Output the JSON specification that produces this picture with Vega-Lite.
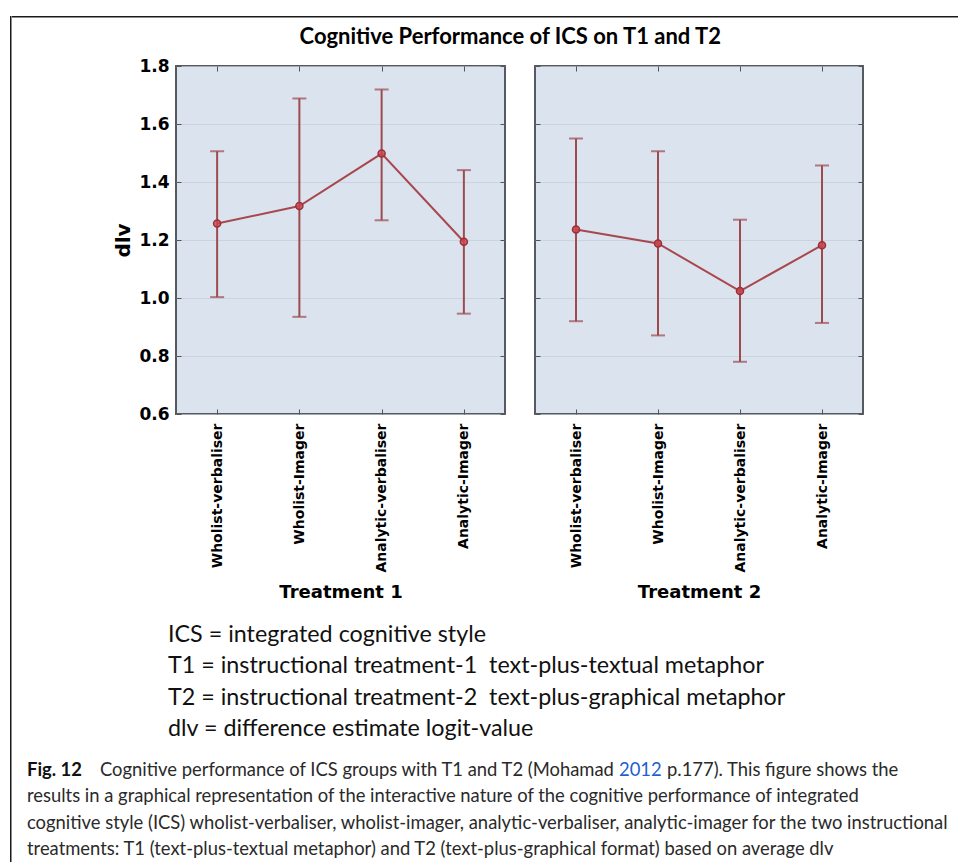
{
  "$schema": "https://vega.github.io/schema/vega-lite/v6.json",
  "background": "white",
  "padding": {"left": 10, "top": 10, "right": 0, "bottom": 0},
  "datasets": {
    "ics": [
      {"treatment": "Treatment 1", "group": "Wholist-verbaliser", "mean": 1.257, "lower": 1.003, "upper": 1.506},
      {"treatment": "Treatment 1", "group": "Wholist-Imager", "mean": 1.317, "lower": 0.935, "upper": 1.688},
      {"treatment": "Treatment 1", "group": "Analytic-verbaliser", "mean": 1.498, "lower": 1.268, "upper": 1.719},
      {"treatment": "Treatment 1", "group": "Analytic-Imager", "mean": 1.194, "lower": 0.946, "upper": 1.441},
      {"treatment": "Treatment 2", "group": "Wholist-verbaliser", "mean": 1.236, "lower": 0.92, "upper": 1.55},
      {"treatment": "Treatment 2", "group": "Wholist-Imager", "mean": 1.188, "lower": 0.871, "upper": 1.506},
      {"treatment": "Treatment 2", "group": "Analytic-verbaliser", "mean": 1.024, "lower": 0.78, "upper": 1.27},
      {"treatment": "Treatment 2", "group": "Analytic-Imager", "mean": 1.182, "lower": 0.914, "upper": 1.457}
    ],
    "notes": [
      {"line": 1, "text": "ICS = integrated cognitive style"},
      {"line": 2, "text": "T1 = instructional treatment-1\u00a0 text-plus-textual metaphor"},
      {"line": 3, "text": "T2 = instructional treatment-2\u00a0 text-plus-graphical metaphor"},
      {"line": 4, "text": "dlv = difference estimate logit-value"}
    ],
    "caption": [
      {"line": 1, "part": "fig", "text": "Fig. 12"},
      {"line": 1, "part": "a", "text": "Cognitive performance of ICS groups with T1 and T2 (Mohamad"},
      {"line": 1, "part": "year", "text": "2012"},
      {"line": 1, "part": "b", "text": "p.177). This figure shows the"},
      {"line": 2, "part": "body", "text": "results in a graphical representation of the interactive nature of the cognitive performance of integrated"},
      {"line": 3, "part": "body", "text": "cognitive style (ICS) wholist-verbaliser, wholist-imager, analytic-verbaliser, analytic-imager for the two instructional"},
      {"line": 4, "part": "body", "text": "treatments: T1 (text-plus-textual metaphor) and T2 (text-plus-graphical format) based on average dlv"}
    ]
  },
  "spacing": 0,
  "hconcat": [
    {
      "width": 1.5,
      "height": 860,
      "view": {"fill": "#1a1a1a", "stroke": null},
      "data": {"values": [{"k": 1}]},
      "mark": {"type": "text"},
      "encoding": {"text": {"value": ""}}
    },
    {
      "spacing": 4,
      "vconcat": [
        {
          "width": 950,
          "height": 1.5,
          "view": {"fill": "#1a1a1a", "stroke": null},
          "data": {"values": [{"k": 1}]},
          "mark": {"type": "text"},
          "encoding": {"text": {"value": ""}}
        },
        {
          "spacing": 0,
          "vconcat": [
            {
              "title": {
                "text": "Cognitive Performance of ICS on T1 and T2",
                "font": "Lato", "fontWeight": "bold", "fontSize": 22, "color": "#000000",
                "anchor": "middle", "dx": 72, "offset": 7
              },
              "spacing": 26,
              "hconcat": [
                {
                  "width": 74, "height": 10,
                  "data": {"values": [{"k": 1}]},
                  "mark": {"type": "text"},
                  "encoding": {"text": {"value": ""}}
                },
                {
                  "width": 329, "height": 348,
                  "view": {"fill": "#dae3ee", "stroke": "#545a60", "strokeWidth": 2},
                  "data": {"name": "ics"},
                  "transform": [{"filter": "datum.treatment === 'Treatment 1'"}],
                  "resolve": {"axis": {"x": "independent", "y": "independent"}},
                  "layer": [
                    {
                      "mark": {"type": "rule", "color": "#9e4a4f", "strokeWidth": 2},
                      "encoding": {
                        "x": {"field": "group", "type": "ordinal", "sort": null,
                          "scale": {"type": "point", "padding": 0.5},
                          "axis": {"title": "Treatment 1", "titlePadding": 11, "labelPadding": 14}},
                        "y": {"field": "lower", "type": "quantitative",
                          "scale": {"domain": [0.6, 1.8], "nice": false, "zero": false},
                          "axis": {"values": [0.6, 0.8, 1.0, 1.2, 1.4, 1.6, 1.8], "format": ".1f", "grid": true,
                            "labelFontSize": 17, "title": "dlv", "titleFontSize": 20, "titlePadding": 5, "labelPadding": 12}},
                        "y2": {"field": "upper"}
                      }
                    },
                    {
                      "mark": {"type": "tick", "color": "#9e4a4f", "size": 14, "thickness": 2},
                      "encoding": {
                        "x": {"field": "group", "type": "ordinal", "sort": null, "axis": null},
                        "y": {"field": "upper", "type": "quantitative", "axis": null}
                      }
                    },
                    {
                      "mark": {"type": "tick", "color": "#9e4a4f", "size": 14, "thickness": 2},
                      "encoding": {
                        "x": {"field": "group", "type": "ordinal", "sort": null, "axis": null},
                        "y": {"field": "lower", "type": "quantitative", "axis": null}
                      }
                    },
                    {
                      "mark": {"type": "line", "color": "#a9474e", "strokeWidth": 2},
                      "encoding": {
                        "x": {"field": "group", "type": "ordinal", "sort": null, "axis": null},
                        "y": {"field": "mean", "type": "quantitative", "axis": null}
                      }
                    },
                    {
                      "mark": {"type": "point", "shape": "circle", "size": 50, "filled": true, "fill": "#c8464f", "fillOpacity": 0.8, "stroke": "#9c2f38", "strokeWidth": 1.5, "opacity": 1},
                      "encoding": {
                        "x": {"field": "group", "type": "ordinal", "sort": null,
                          "axis": {"orient": "top", "labels": false, "title": null}},
                        "y": {"field": "mean", "type": "quantitative",
                          "axis": {"orient": "right", "labels": false, "title": null, "values": [0.6, 0.8, 1.0, 1.2, 1.4, 1.6, 1.8]}}
                      }
                    }
                  ]
                },
                {
                  "width": 328, "height": 348,
                  "view": {"fill": "#dae3ee", "stroke": "#545a60", "strokeWidth": 2},
                  "data": {"name": "ics"},
                  "transform": [{"filter": "datum.treatment === 'Treatment 2'"}],
                  "resolve": {"axis": {"x": "independent", "y": "independent"}},
                  "layer": [
                    {
                      "mark": {"type": "rule", "color": "#9e4a4f", "strokeWidth": 2},
                      "encoding": {
                        "x": {"field": "group", "type": "ordinal", "sort": null,
                          "scale": {"type": "point", "padding": 0.5},
                          "axis": {"title": "Treatment 2", "titlePadding": 11, "labelPadding": 14}},
                        "y": {"field": "lower", "type": "quantitative",
                          "scale": {"domain": [0.6, 1.8], "nice": false, "zero": false},
                          "axis": {"values": [0.6, 0.8, 1.0, 1.2, 1.4, 1.6, 1.8], "grid": true, "labels": false, "title": null}},
                        "y2": {"field": "upper"}
                      }
                    },
                    {
                      "mark": {"type": "tick", "color": "#9e4a4f", "size": 14, "thickness": 2},
                      "encoding": {
                        "x": {"field": "group", "type": "ordinal", "sort": null, "axis": null},
                        "y": {"field": "upper", "type": "quantitative", "axis": null}
                      }
                    },
                    {
                      "mark": {"type": "tick", "color": "#9e4a4f", "size": 14, "thickness": 2},
                      "encoding": {
                        "x": {"field": "group", "type": "ordinal", "sort": null, "axis": null},
                        "y": {"field": "lower", "type": "quantitative", "axis": null}
                      }
                    },
                    {
                      "mark": {"type": "line", "color": "#a9474e", "strokeWidth": 2},
                      "encoding": {
                        "x": {"field": "group", "type": "ordinal", "sort": null, "axis": null},
                        "y": {"field": "mean", "type": "quantitative", "axis": null}
                      }
                    },
                    {
                      "mark": {"type": "point", "shape": "circle", "size": 50, "filled": true, "fill": "#c8464f", "fillOpacity": 0.9, "stroke": "#9c2f38", "strokeWidth": 1.5, "opacity": 1},
                      "encoding": {
                        "x": {"field": "group", "type": "ordinal", "sort": null,
                          "axis": {"orient": "top", "labels": false, "title": null}},
                        "y": {"field": "mean", "type": "quantitative",
                          "axis": {"orient": "right", "labels": false, "title": null, "values": [0.6, 0.8, 1.0, 1.2, 1.4, 1.6, 1.8]}}
                      }
                    }
                  ]
                }
              ]
            },
            {
              "width": 312, "height": 158,
              "data": {"name": "notes"},
              "mark": {"type": "text", "align": "left", "baseline": "middle", "font": "Lato", "fontSize": 23.3, "color": "#111111"},
              "encoding": {
                "y": {"field": "line", "type": "ordinal", "scale": {"type": "point", "padding": 1.1}, "axis": null},
                "text": {"field": "text"}
              }
            },
            {
              "width": 30, "height": 79.2,
              "data": {"name": "caption"},
              "encoding": {
                "y": {"field": "line", "type": "ordinal", "scale": {"type": "point", "padding": 0}, "axis": null},
                "text": {"field": "text"}
              },
              "layer": [
                {"transform": [{"filter": "datum.part === 'fig'"}],
                 "mark": {"type": "text", "align": "left", "baseline": "middle", "font": "Lato", "fontSize": 18.4, "fontWeight": "bold", "color": "#111111"}},
                {"transform": [{"filter": "datum.part === 'a'"}],
                 "mark": {"type": "text", "align": "left", "baseline": "middle", "font": "Lato", "fontSize": 18.4, "color": "#2a2a2a", "dx": 73}},
                {"transform": [{"filter": "datum.part === 'year'"}],
                 "mark": {"type": "text", "align": "left", "baseline": "middle", "font": "Lato", "fontSize": 18.4, "color": "#1f5fd0", "dx": 592}},
                {"transform": [{"filter": "datum.part === 'b'"}],
                 "mark": {"type": "text", "align": "left", "baseline": "middle", "font": "Lato", "fontSize": 18.4, "color": "#2a2a2a", "dx": 640}},
                {"transform": [{"filter": "datum.part === 'body'"}],
                 "mark": {"type": "text", "align": "left", "baseline": "middle", "font": "Lato", "fontSize": 18.4, "color": "#2a2a2a"}}
              ]
            }
          ]
        }
      ]
    }
  ],
  "config": {
    "view": {"stroke": null},
    "font": "DejaVu Sans",
    "axis": {
      "domain": false, "grid": false,
      "tickColor": "#555555", "tickSize": -5, "tickWidth": 1,
      "labelColor": "#000000", "titleColor": "#000000",
      "labelFont": "DejaVu Sans", "labelFontWeight": "bold",
      "titleFont": "DejaVu Sans", "titleFontWeight": "bold",
      "gridColor": "#c3cdd9", "gridOpacity": 0.7
    },
    "axisY": {"labelFontSize": 17},
    "axisX": {"labelFontSize": 14, "labelAngle": -90, "titleFontSize": 18}
  }
}
